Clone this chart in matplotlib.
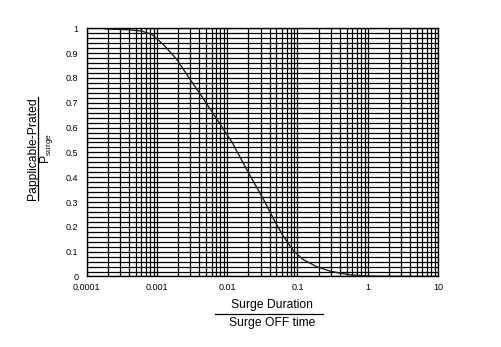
import matplotlib
matplotlib.use("Agg")
import matplotlib.pyplot as plt
import numpy as np
from matplotlib.lines import Line2D
from matplotlib.ticker import FixedLocator, LogLocator, NullFormatter

plt.rcParams['font.family'] = ['Liberation Sans', 'DejaVu Sans']
plt.rcParams['mathtext.fontset'] = 'custom'
plt.rcParams['mathtext.rm'] = 'Liberation Sans'
plt.rcParams['mathtext.it'] = 'Liberation Sans'

# Data
duration_ratio = [0.000186, 0.0004, 0.0006, 0.00084, 0.00123, 0.00191, 0.00295,
                  0.00482, 0.00877, 0.0116, 0.0199, 0.0308, 0.0344, 0.0477,
                  0.0627, 0.0869, 0.1206, 0.187, 0.289, 0.379, 0.56, 1.0, 2.0, 10.0]
power_ratio = [0.997, 0.994, 0.989, 0.976, 0.935, 0.875, 0.795,
               0.707, 0.595, 0.543, 0.42, 0.325, 0.30, 0.221,
               0.163, 0.105, 0.068, 0.04, 0.022, 0.015, 0.007, 0.002, 0.001, 0.0]
x_ticks = [0.0001, 0.001, 0.01, 0.1, 1, 10]
x_tick_labels = ['0.0001', '0.001', '0.01', '0.1', '1', '10']
y_ticks = [0, 0.1, 0.2, 0.3, 0.4, 0.5, 0.6, 0.7, 0.8, 0.9, 1]
y_tick_labels = ['0', '0.1', '0.2', '0.3', '0.4', '0.5', '0.6', '0.7', '0.8', '0.9', '1']

fig = plt.figure(figsize=(5.02, 3.47), dpi=100)
ax = fig.add_axes([0.1727, 0.2032, 0.6998, 0.7152])

ax.plot(duration_ratio, power_ratio, color='#222222', lw=1.0, zorder=3)
ax.set_xscale('log')
ax.set_xlim(0.0001, 10)
ax.set_ylim(0, 1)

ax.set_xticks(x_ticks)
ax.set_xticklabels(x_tick_labels)
ax.xaxis.set_minor_locator(LogLocator(base=10, subs=np.arange(2, 10)))
ax.xaxis.set_minor_formatter(NullFormatter())
ax.set_yticks(y_ticks)
ax.set_yticklabels(y_tick_labels)
ax.yaxis.set_minor_locator(FixedLocator(np.arange(0, 1.0001, 0.02)))

ax.grid(True, which='both', color='black', lw=0.9)
ax.tick_params(which='both', length=0)
ax.tick_params(axis='x', pad=5, labelsize=6.5)
ax.tick_params(axis='y', pad=6, labelsize=6.5)
for sp in ax.spines.values():
    sp.set_color('black')
    sp.set_linewidth(1.0)

W, H = 502, 347
def fx(px):
    return px / W
def fy(py):
    return 1 - py / H

# x label fraction
fig.text(fx(271.7), fy(305), 'Surge Duration', ha='center', va='center', fontsize=8.7)
fig.add_artist(Line2D([fx(215), fx(323)], [fy(314), fy(314)], color='black', lw=0.9))
fig.text(fx(271.7), fy(323), 'Surge OFF time', ha='center', va='center', fontsize=8.7)

# y label fraction
fig.text(fx(33.3), fy(149), 'Papplicable-Prated', ha='center', va='center',
         rotation=90, fontsize=8.7)
fig.add_artist(Line2D([fx(38.5), fx(38.5)], [fy(97), fy(200)], color='black', lw=0.9))
fig.text(fx(47), fy(148), r'P$_{\mathrm{surge}}$', ha='center', va='center',
         rotation=90, fontsize=8.7)

fig.savefig('out.png', dpi=100)
